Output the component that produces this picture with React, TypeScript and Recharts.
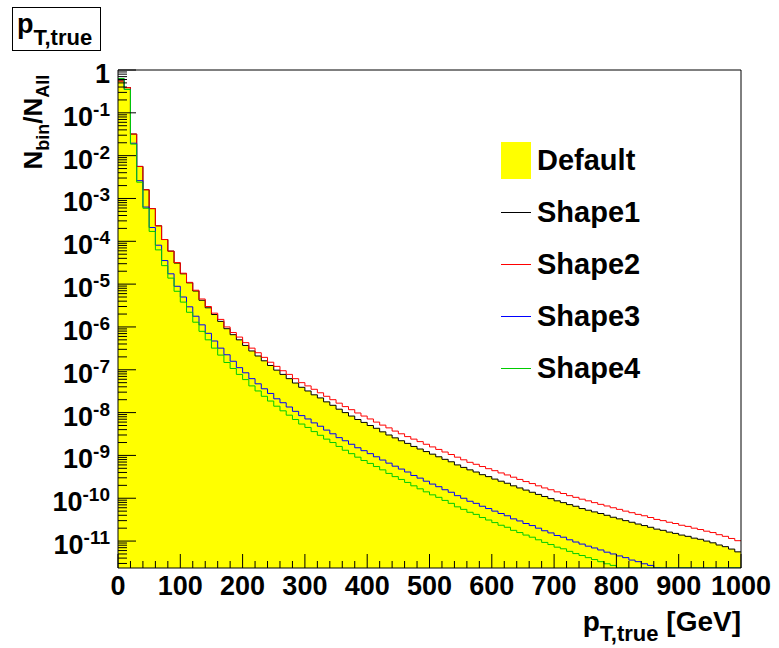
import { ComposedChart, Area, Line, XAxis, YAxis, ReferenceLine, Legend } from "recharts";

const FONT = '"Liberation Sans", Arial, Helvetica, sans-serif';

// histogram binning and axis ranges (GeV, N_bin/N_All)
const BIN_WIDTH = 10;
const X_MIN = 0;
const X_MAX = 1000;
const Y_MIN = 2.35e-12;
const Y_MAX = 1;

const X_LABELS = [0, 100, 200, 300, 400, 500, 600, 700, 800, 900, 1000];
const X_MINOR_STEP = 20;
const Y_DECADES = [0, -1, -2, -3, -4, -5, -6, -7, -8, -9, -10, -11];
const Y_SUB = [2, 3, 4, 5, 6, 7, 8, 9];

// bin contents, 100 bins of 10 GeV
const shape1 = [
  0.56, 0.39, 3.2e-2, 5.6e-3, 1.6e-3, 5.8e-4, 2.3e-4, 1.1e-4, 5.9e-5, 3.1e-5,
  1.74e-5, 1.07e-5, 6.9e-6, 4.2e-6, 2.8e-6, 1.95e-6, 1.35e-6, 9.1e-7, 6.6e-7, 5.0e-7,
  3.7e-7, 2.75e-7, 2.1e-7, 1.62e-7, 1.26e-7, 9.8e-8, 7.8e-8, 6.2e-8, 4.9e-8, 3.9e-8,
  3.2e-8, 2.6e-8, 2.2e-8, 1.78e-8, 1.48e-8, 1.2e-8, 1.0e-8, 8.3e-9, 6.9e-9, 5.9e-9,
  5.0e-9, 4.3e-9, 3.55e-9, 3.0e-9, 2.57e-9, 2.2e-9, 1.91e-9, 1.62e-9, 1.41e-9, 1.23e-9,
  1.07e-9, 9.3e-10, 8.1e-10, 7.1e-10, 6.0e-10, 5.25e-10, 4.6e-10, 4.1e-10, 3.55e-10, 3.2e-10,
  2.8e-10, 2.5e-10, 2.24e-10, 1.95e-10, 1.74e-10, 1.55e-10, 1.38e-10, 1.23e-10, 1.1e-10, 9.8e-11,
  8.7e-11, 7.9e-11, 7.1e-11, 6.5e-11, 5.75e-11, 5.25e-11, 4.8e-11, 4.4e-11, 4.0e-11, 3.6e-11,
  3.3e-11, 3.0e-11, 2.75e-11, 2.5e-11, 2.3e-11, 2.1e-11, 1.9e-11, 1.78e-11, 1.62e-11, 1.51e-11,
  1.38e-11, 1.29e-11, 1.17e-11, 1.1e-11, 1.0e-11, 9.1e-12, 8.1e-12, 7.4e-12, 6.5e-12, 5.6e-12,
];

// the yellow Default histogram sits exactly under the Shape1 line
const defaultHist = shape1;

const shape2 = [
  0.55, 0.39, 3.2e-2, 5.6e-3, 1.6e-3, 5.8e-4, 2.3e-4, 1.1e-4, 5.9e-5, 3.2e-5,
  1.8e-5, 1.1e-5, 7.2e-6, 4.5e-6, 3.0e-6, 2.1e-6, 1.5e-6, 1.0e-6, 7.4e-7, 5.8e-7,
  4.3e-7, 3.2e-7, 2.5e-7, 1.95e-7, 1.5e-7, 1.2e-7, 9.5e-8, 7.8e-8, 6.2e-8, 5.0e-8,
  4.2e-8, 3.5e-8, 2.9e-8, 2.4e-8, 2.0e-8, 1.66e-8, 1.38e-8, 1.17e-8, 9.8e-9, 8.3e-9,
  7.1e-9, 6.0e-9, 5.1e-9, 4.4e-9, 3.7e-9, 3.2e-9, 2.75e-9, 2.4e-9, 2.1e-9, 1.82e-9,
  1.58e-9, 1.38e-9, 1.2e-9, 1.05e-9, 9.1e-10, 7.9e-10, 6.9e-10, 6.2e-10, 5.5e-10, 4.9e-10,
  4.4e-10, 3.9e-10, 3.5e-10, 3.1e-10, 2.75e-10, 2.45e-10, 2.2e-10, 1.95e-10, 1.74e-10, 1.58e-10,
  1.41e-10, 1.29e-10, 1.15e-10, 1.05e-10, 9.5e-11, 8.7e-11, 7.9e-11, 7.2e-11, 6.6e-11, 6.0e-11,
  5.5e-11, 5.0e-11, 4.6e-11, 4.2e-11, 3.9e-11, 3.55e-11, 3.2e-11, 3.0e-11, 2.75e-11, 2.57e-11,
  2.34e-11, 2.2e-11, 2.0e-11, 1.86e-11, 1.7e-11, 1.58e-11, 1.41e-11, 1.29e-11, 1.15e-11, 1.02e-11,
];

// last bins of Shape3/Shape4 sit on the bottom of the frame
const shape3 = [
  0.62, 0.355, 1.95e-2, 2.6e-3, 6.3e-4, 2.1e-4, 8.1e-5, 3.55e-5, 1.74e-5, 8.9e-6,
  5.0e-6, 2.95e-6, 1.78e-6, 1.12e-6, 7.1e-7, 4.7e-7, 3.2e-7, 2.24e-7, 1.58e-7, 1.12e-7,
  8.5e-8, 6.2e-8, 4.7e-8, 3.6e-8, 2.8e-8, 2.1e-8, 1.7e-8, 1.35e-8, 1.07e-8, 8.5e-9,
  7.1e-9, 5.75e-9, 4.8e-9, 3.9e-9, 3.2e-9, 2.6e-9, 2.2e-9, 1.82e-9, 1.51e-9, 1.29e-9,
  1.1e-9, 9.3e-10, 7.8e-10, 6.6e-10, 5.6e-10, 4.8e-10, 4.1e-10, 3.4e-10, 2.95e-10, 2.5e-10,
  2.14e-10, 1.86e-10, 1.58e-10, 1.38e-10, 1.15e-10, 1.0e-10, 8.5e-11, 7.6e-11, 6.5e-11, 5.75e-11,
  5.0e-11, 4.4e-11, 3.9e-11, 3.3e-11, 2.95e-11, 2.57e-11, 2.3e-11, 2.0e-11, 1.74e-11, 1.55e-11,
  1.35e-11, 1.23e-11, 1.07e-11, 9.5e-12, 8.5e-12, 7.6e-12, 6.9e-12, 6.2e-12, 5.5e-12, 5.0e-12,
  4.5e-12, 4.1e-12, 3.6e-12, 3.3e-12, 2.95e-12, 2.7e-12, 2.4e-12, 2.35e-12, 2.35e-12, 2.35e-12,
  2.35e-12, 2.35e-12, 2.35e-12, 2.35e-12, 2.35e-12, 2.35e-12, 2.35e-12, 2.35e-12, 2.35e-12, 2.35e-12,
];

const shape4 = [
  0.63, 0.35, 1.86e-2, 2.4e-3, 5.9e-4, 1.7e-4, 6.3e-5, 2.7e-5, 1.38e-5, 6.8e-6,
  3.8e-6, 2.2e-6, 1.29e-6, 7.9e-7, 5.0e-7, 3.2e-7, 2.2e-7, 1.48e-7, 1.07e-7, 7.8e-8,
  5.9e-8, 4.2e-8, 3.2e-8, 2.4e-8, 1.86e-8, 1.41e-8, 1.1e-8, 8.7e-9, 6.9e-9, 5.4e-9,
  4.5e-9, 3.6e-9, 2.95e-9, 2.4e-9, 2.0e-9, 1.62e-9, 1.32e-9, 1.1e-9, 9.1e-10, 7.6e-10,
  6.5e-10, 5.5e-10, 4.6e-10, 3.8e-10, 3.2e-10, 2.75e-10, 2.34e-10, 1.95e-10, 1.66e-10, 1.41e-10,
  1.2e-10, 1.05e-10, 8.9e-11, 7.6e-11, 6.3e-11, 5.5e-11, 4.7e-11, 4.2e-11, 3.55e-11, 3.1e-11,
  2.7e-11, 2.34e-11, 2.1e-11, 1.78e-11, 1.58e-11, 1.38e-11, 1.23e-11, 1.07e-11, 9.3e-12, 8.3e-12,
  7.2e-12, 6.6e-12, 5.75e-12, 5.1e-12, 4.6e-12, 4.1e-12, 3.7e-12, 3.3e-12, 2.95e-12, 2.7e-12,
  2.35e-12, 2.35e-12, 2.35e-12, 2.35e-12, 2.35e-12, 2.35e-12, 2.35e-12, 2.35e-12, 2.35e-12, 2.35e-12,
  2.35e-12, 2.35e-12, 2.35e-12, 2.35e-12, 2.35e-12, 2.35e-12, 2.35e-12, 2.35e-12, 2.35e-12, 2.35e-12,
];

// one row per bin low edge, plus the upper edge of the last bin so the steps close at 1000
const rows = Array.from({ length: shape1.length + 1 }, (_, i) => {
  const k = Math.min(i, shape1.length - 1);
  return {
    x: X_MIN + i * BIN_WIDTH,
    def: defaultHist[k],
    s1: shape1[k],
    s2: shape2[k],
    s3: shape3[k],
    s4: shape4[k],
  };
});

const xTicks: number[] = [];
for (let v = X_MIN; v <= X_MAX; v += X_MINOR_STEP) xTicks.push(v);
for (const v of X_LABELS) if (!xTicks.includes(v)) xTicks.push(v);
xTicks.sort((a, b) => a - b);

const yTicks: number[] = [];
for (const e of [...Y_DECADES, Y_DECADES[Y_DECADES.length - 1] - 1]) {
  const d = Math.pow(10, e);
  if (d >= Y_MIN && d <= Y_MAX) yTicks.push(d);
  for (const m of Y_SUB) {
    const v = m * d;
    if (v > Y_MIN && v < Y_MAX) yTicks.push(v);
  }
}
yTicks.sort((a, b) => a - b);

function XTick({ x, y, payload }: any) {
  const v = payload.value as number;
  const major = X_LABELS.includes(v);
  return (
    <g>
      <line x1={x} x2={x} y1={y} y2={y - (major ? 14 : 7)} stroke="#000" strokeWidth={1} />
      {major && (
        <text x={x} y={y + 27} textAnchor="middle" fontFamily={FONT} fontWeight="bold" fontSize={27} fill="#000">
          {v}
        </text>
      )}
    </g>
  );
}

function YTick({ x, y, payload }: any) {
  const v = payload.value as number;
  const lg = Math.log10(v);
  const e = Math.round(lg);
  const major = Math.abs(lg - e) < 1e-6;
  return (
    <g>
      <line x1={x} x2={x + (major ? 18 : 9)} y1={y} y2={y} stroke="#000" strokeWidth={1} />
      {major && (
        <text x={x - 8} y={y + 13} textAnchor="end" fontFamily={FONT} fontWeight="bold" fontSize={27} fill="#000">
          {e === 0 ? (
            "1"
          ) : (
            <>
              <tspan>10</tspan>
              <tspan dy={-10} fontSize={19}>{e}</tspan>
            </>
          )}
        </text>
      )}
    </g>
  );
}

function LegendBox({ payload }: any) {
  return (
    <div style={{ fontFamily: FONT, fontWeight: "bold", fontSize: 29, color: "#000" }}>
      {(payload || []).map((entry: any) => (
        <div key={entry.value} style={{ display: "flex", alignItems: "center", height: 52 }}>
          {entry.type === "rect" ? (
            <div style={{ width: 30, height: 37, background: entry.color }} />
          ) : (
            <div style={{ width: 30, height: 1, background: entry.color }} />
          )}
          <span style={{ marginLeft: 6 }}>{entry.value}</span>
        </div>
      ))}
    </div>
  );
}

export default function App() {
  return (
    <div style={{ position: "absolute", left: 0, top: 0, width: 779, height: 648, background: "#fff" }}>
      <ComposedChart
        width={779}
        height={648}
        data={rows}
        margin={{ top: 70, right: 38, bottom: 50, left: 58 }}
      >
        <XAxis
          type="number"
          dataKey="x"
          domain={[X_MIN, X_MAX]}
          ticks={xTicks}
          interval={0}
          allowDataOverflow
          height={30}
          tickSize={0}
          tickMargin={0}
          tickLine={false}
          axisLine={{ stroke: "#000", strokeWidth: 1 }}
          tick={<XTick />}
        />
        <YAxis
          scale="log"
          domain={[Y_MIN, Y_MAX]}
          ticks={yTicks}
          interval={0}
          allowDataOverflow
          width={60}
          tickSize={0}
          tickMargin={0}
          tickLine={false}
          axisLine={{ stroke: "#000", strokeWidth: 1 }}
          tick={<YTick />}
        />
        <Area
          name="Default"
          dataKey="def"
          type="stepAfter"
          fill="#ffff00"
          fillOpacity={1}
          stroke="none"
          baseValue={Y_MIN}
          legendType="rect"
          isAnimationActive={false}
        />
        <Line name="Shape1" dataKey="s1" type="stepAfter" stroke="#000000" strokeWidth={1} dot={false} legendType="line" isAnimationActive={false} />
        <Line name="Shape2" dataKey="s2" type="stepAfter" stroke="#ff0000" strokeWidth={1} dot={false} legendType="line" isAnimationActive={false} />
        <Line name="Shape3" dataKey="s3" type="stepAfter" stroke="#0000ff" strokeWidth={1} dot={false} legendType="line" isAnimationActive={false} />
        <Line name="Shape4" dataKey="s4" type="stepAfter" stroke="#00cc00" strokeWidth={1} dot={false} legendType="line" isAnimationActive={false} />
        <ReferenceLine y={Y_MAX} stroke="#000" strokeWidth={1} />
        <ReferenceLine x={X_MAX} stroke="#000" strokeWidth={1} />
        <Legend
          layout="horizontal"
          align="center"
          verticalAlign="middle"
          content={<LegendBox />}
          wrapperStyle={{ position: "absolute", left: 501, top: 134, width: 200 }}
        />
      </ComposedChart>

      <svg
        width={779}
        height={648}
        style={{ position: "absolute", left: 0, top: 0, pointerEvents: "none" }}
        fontFamily={FONT}
        fontWeight="bold"
      >
        <rect x={12.5} y={7.5} width={88} height={43} fill="#fff" stroke="#000" strokeWidth={1} />
        <text x={17} y={33} fontSize={27} fill="#000">
          p<tspan dy={12} fontSize={22}>T,true</tspan>
        </text>
        <text transform="rotate(-90, 42, 122)" x={42} y={122} textAnchor="middle" fontSize={26} fill="#000">
          N<tspan dy={7} fontSize={18}>bin</tspan>
          <tspan dy={-7}>/N</tspan>
          <tspan dy={7} fontSize={18}>All</tspan>
        </text>
        <text x={741} y={631} textAnchor="end" fontSize={28} fill="#000">
          p<tspan dy={10} fontSize={22}>T,true</tspan>
          <tspan dy={-10}> [GeV]</tspan>
        </text>
      </svg>
    </div>
  );
}
